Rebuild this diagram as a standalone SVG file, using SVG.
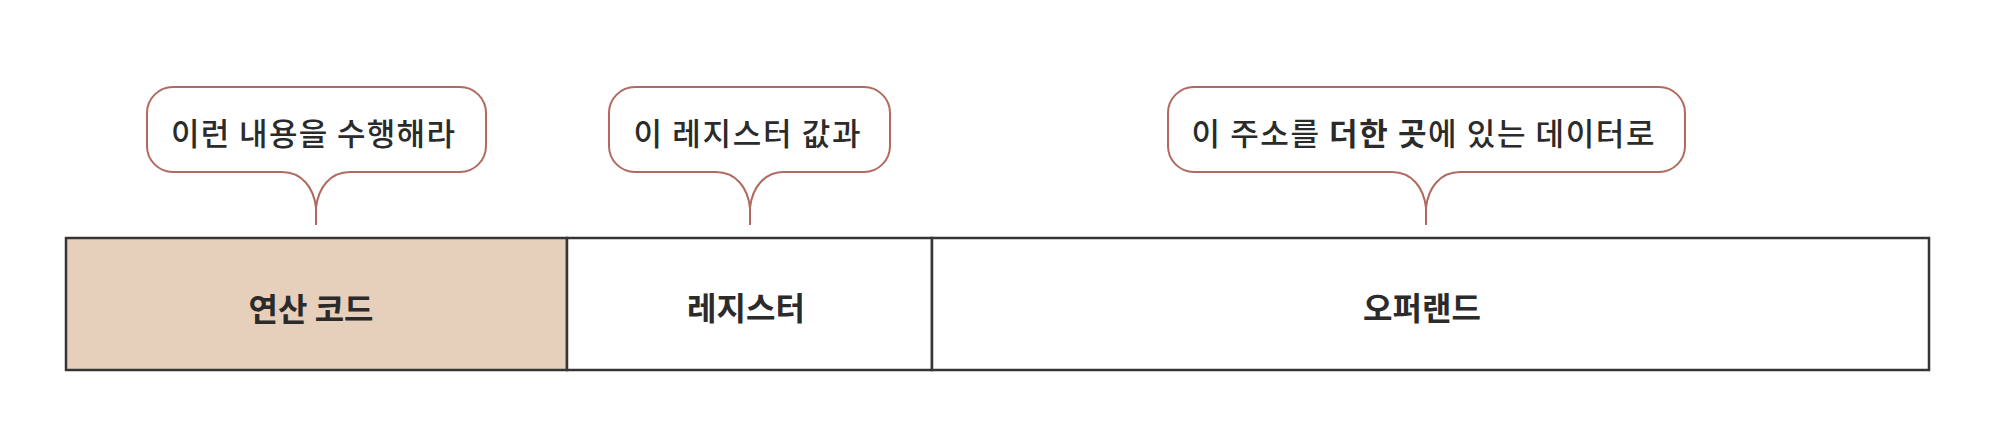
<svg xmlns="http://www.w3.org/2000/svg" width="1998" height="448" viewBox="0 0 1998 448">
<style>
.bubble{fill:#ffffff;stroke:#b06a60;stroke-width:2;}
.cell{stroke:#353535;stroke-width:2.5;}
.t{font-family:"Noto Sans CJK KR","Noto Sans",sans-serif;fill:#2b2b2b;text-anchor:middle;dominant-baseline:central;}
.bt{font-size:31px;font-weight:500;}
.ct{font-size:32px;font-weight:600;}
.b{font-weight:700;}
</style>
<rect width="1998" height="448" fill="#ffffff"/>
<g id="connectors"></g>
<g id="bubble-opcode">
<path class="bubble" d="M173,87 H460 A26,26 0 0 1 486,113 V146 A26,26 0 0 1 460,172 H350 C330,172 318,188 316,208 V225 V208 C314,188 302,172 282,172 H173 A26,26 0 0 1 147,146 V113 A26,26 0 0 1 173,87 Z"/>
<text class="t bt" x="313" y="131" textLength="284" lengthAdjust="spacing">이런 내용을 수행해라</text>
</g>
<g id="bubble-register">
<path class="bubble" d="M635,87 H864 A26,26 0 0 1 890,113 V146 A26,26 0 0 1 864,172 H784 C764,172 752,188 750,208 V225 V208 C748,188 736,172 716,172 H635 A26,26 0 0 1 609,146 V113 A26,26 0 0 1 635,87 Z"/>
<text class="t bt" x="747" y="131" textLength="227" lengthAdjust="spacing">이 레지스터 값과</text>
</g>
<g id="bubble-operand">
<path class="bubble" d="M1194,87 H1659 A26,26 0 0 1 1685,113 V146 A26,26 0 0 1 1659,172 H1460 C1440,172 1428,188 1426,208 V225 V208 C1424,188 1412,172 1392,172 H1194 A26,26 0 0 1 1168,146 V113 A26,26 0 0 1 1194,87 Z"/>
<text class="t bt" x="1423" y="131" textLength="463" lengthAdjust="spacing">이 주소를 <tspan class="b">더한 곳</tspan>에 있는 데이터로</text>
</g>
<g id="cell-opcode">
<rect class="cell" x="66" y="238" width="501" height="132" fill="#e6cfbb"/>
<text class="t ct" x="311" y="307" font-weight="700">연산 코드</text>
</g>
<g id="cell-register">
<rect class="cell" x="567" y="238" width="365" height="132" fill="#ffffff"/>
<text class="t ct" x="746" y="306">레지스터</text>
</g>
<g id="cell-operand">
<rect class="cell" x="932" y="238" width="997" height="132" fill="#ffffff"/>
<text class="t ct" x="1422" y="306">오퍼랜드</text>
</g>
</svg>
